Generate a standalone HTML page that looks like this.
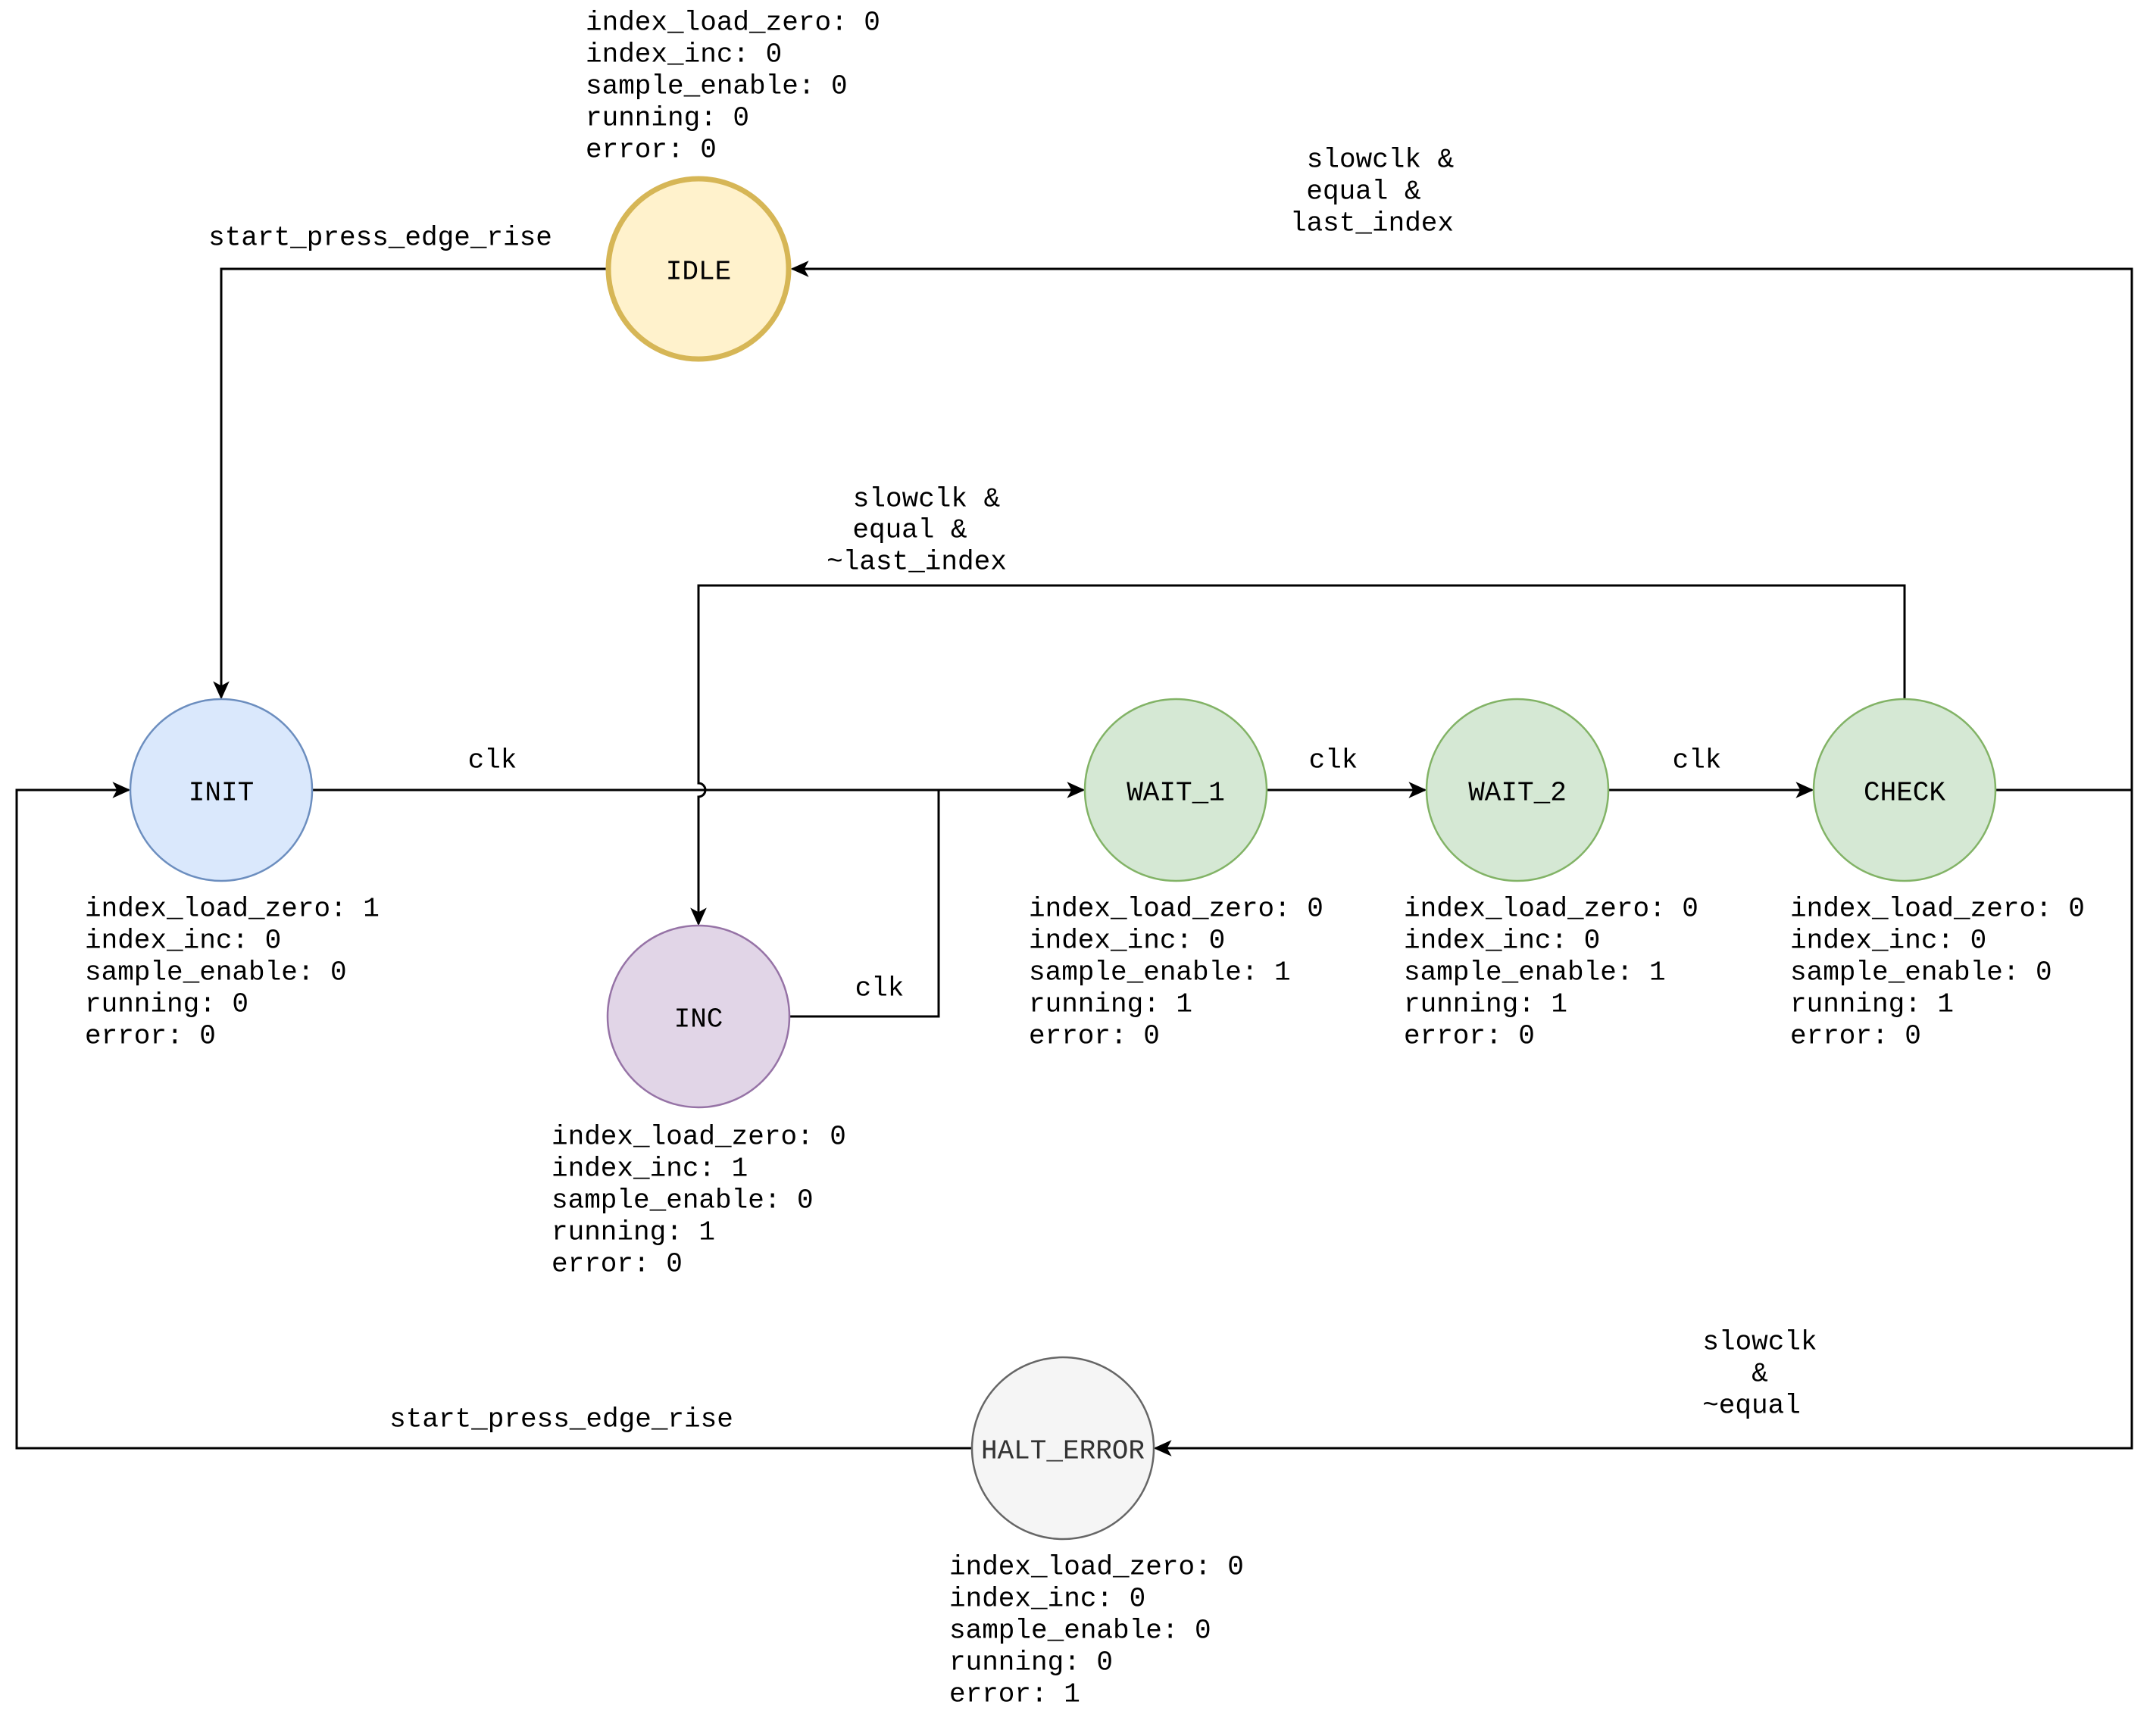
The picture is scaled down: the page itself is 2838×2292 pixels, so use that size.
<!DOCTYPE html>
<html><head><meta charset="utf-8"><style>
html,body{margin:0;padding:0;background:#fff;}
svg{display:block}
text{font-family:"Liberation Mono","DejaVu Sans Mono",monospace;font-size:36px;fill:#000;dominant-baseline:central}
</style></head><body>
<svg width="2838" height="2292" viewBox="0 0 2838 2292" xmlns="http://www.w3.org/2000/svg">
<defs>
<marker id="a" viewBox="0 0 20 20" refX="18" refY="10" markerWidth="24" markerHeight="24" markerUnits="userSpaceOnUse" orient="auto">
<path d="M0,1 L20,10 L0,19 L5,10 Z" fill="#000"/>
</marker>
</defs>
<g fill="none" stroke="#000" stroke-width="3">
<path d="M802,355 H292 V921" marker-end="url(#a)"/>
<path d="M2634,1043 H2814 V355 H1046" marker-end="url(#a)"/>
<path d="M2814,1043 V1912 H1525" marker-end="url(#a)"/>
<path d="M2514,923 V773 H922 V1034 A9,9 0 0 1 922,1052 V1220" marker-end="url(#a)"/>
<path d="M412,1043 H1430" marker-end="url(#a)"/>
<path d="M1042,1342 H1239 V1043"/>
<path d="M1672,1043 H1881" marker-end="url(#a)"/>
<path d="M2123,1043 H2392" marker-end="url(#a)"/>
<path d="M1283,1912 H22 V1043 H170" marker-end="url(#a)"/>
</g>
<circle cx="922" cy="355" r="119" fill="#fff2cc" stroke="#d6b656" stroke-width="7"/>
<circle cx="292" cy="1043" r="120" fill="#dae8fc" stroke="#6c8ebf" stroke-width="2.5"/>
<circle cx="922" cy="1342" r="120" fill="#e1d5e7" stroke="#9673a6" stroke-width="2.5"/>
<circle cx="1552" cy="1043" r="120" fill="#d5e8d4" stroke="#82b366" stroke-width="2.5"/>
<circle cx="2003" cy="1043" r="120" fill="#d5e8d4" stroke="#82b366" stroke-width="2.5"/>
<circle cx="2514" cy="1043" r="120" fill="#d5e8d4" stroke="#82b366" stroke-width="2.5"/>
<circle cx="1403" cy="1912" r="120" fill="#f5f5f5" stroke="#666666" stroke-width="2.5"/>
<g text-anchor="middle">
<text x="922" y="359">IDLE</text>
<text x="292" y="1047">INIT</text>
<text x="922" y="1346">INC</text>
<text x="1552" y="1047">WAIT_1</text>
<text x="2003" y="1047">WAIT_2</text>
<text x="2514" y="1047">CHECK</text>
<text x="1403" y="1916" style="fill:#333">HALT_ERROR</text>
<text x="502" y="314">start_press_edge_rise</text>
<text x="741" y="1874">start_press_edge_rise</text>
<text x="650" y="1004">clk</text>
<text x="1760" y="1004">clk</text>
<text x="2240" y="1004">clk</text>
<text x="1161" y="1305">clk</text>
<text x="1822" y="211">slowclk &amp;</text>
<text x="1800" y="253">equal &amp;</text>
<text x="1811" y="295">last_index</text>
<text x="1223" y="659">slowclk &amp;</text>
<text x="1201" y="700">equal &amp;</text>
<text x="1210" y="742">~last_index</text>
<text x="2323" y="1772">slowclk</text>
<text x="2323" y="1814">&amp;</text>
<text x="2312" y="1856">~equal</text>
</g>
<g>
<text x="773" y="30">index_load_zero: 0</text><text x="773" y="72">index_inc: 0</text><text x="773" y="114">sample_enable: 0</text><text x="773" y="156">running: 0</text><text x="773" y="198">error: 0</text>
<text x="112" y="1200">index_load_zero: 1</text><text x="112" y="1242">index_inc: 0</text><text x="112" y="1284">sample_enable: 0</text><text x="112" y="1326">running: 0</text><text x="112" y="1368">error: 0</text>
<text x="728" y="1501">index_load_zero: 0</text><text x="728" y="1543">index_inc: 1</text><text x="728" y="1585">sample_enable: 0</text><text x="728" y="1627">running: 1</text><text x="728" y="1669">error: 0</text>
<text x="1358" y="1200">index_load_zero: 0</text><text x="1358" y="1242">index_inc: 0</text><text x="1358" y="1284">sample_enable: 1</text><text x="1358" y="1326">running: 1</text><text x="1358" y="1368">error: 0</text>
<text x="1853" y="1200">index_load_zero: 0</text><text x="1853" y="1242">index_inc: 0</text><text x="1853" y="1284">sample_enable: 1</text><text x="1853" y="1326">running: 1</text><text x="1853" y="1368">error: 0</text>
<text x="2363" y="1200">index_load_zero: 0</text><text x="2363" y="1242">index_inc: 0</text><text x="2363" y="1284">sample_enable: 0</text><text x="2363" y="1326">running: 1</text><text x="2363" y="1368">error: 0</text>
<text x="1253" y="2069">index_load_zero: 0</text><text x="1253" y="2111">index_inc: 0</text><text x="1253" y="2153">sample_enable: 0</text><text x="1253" y="2195">running: 0</text><text x="1253" y="2237">error: 1</text>
</g>
</svg>
</body></html>
